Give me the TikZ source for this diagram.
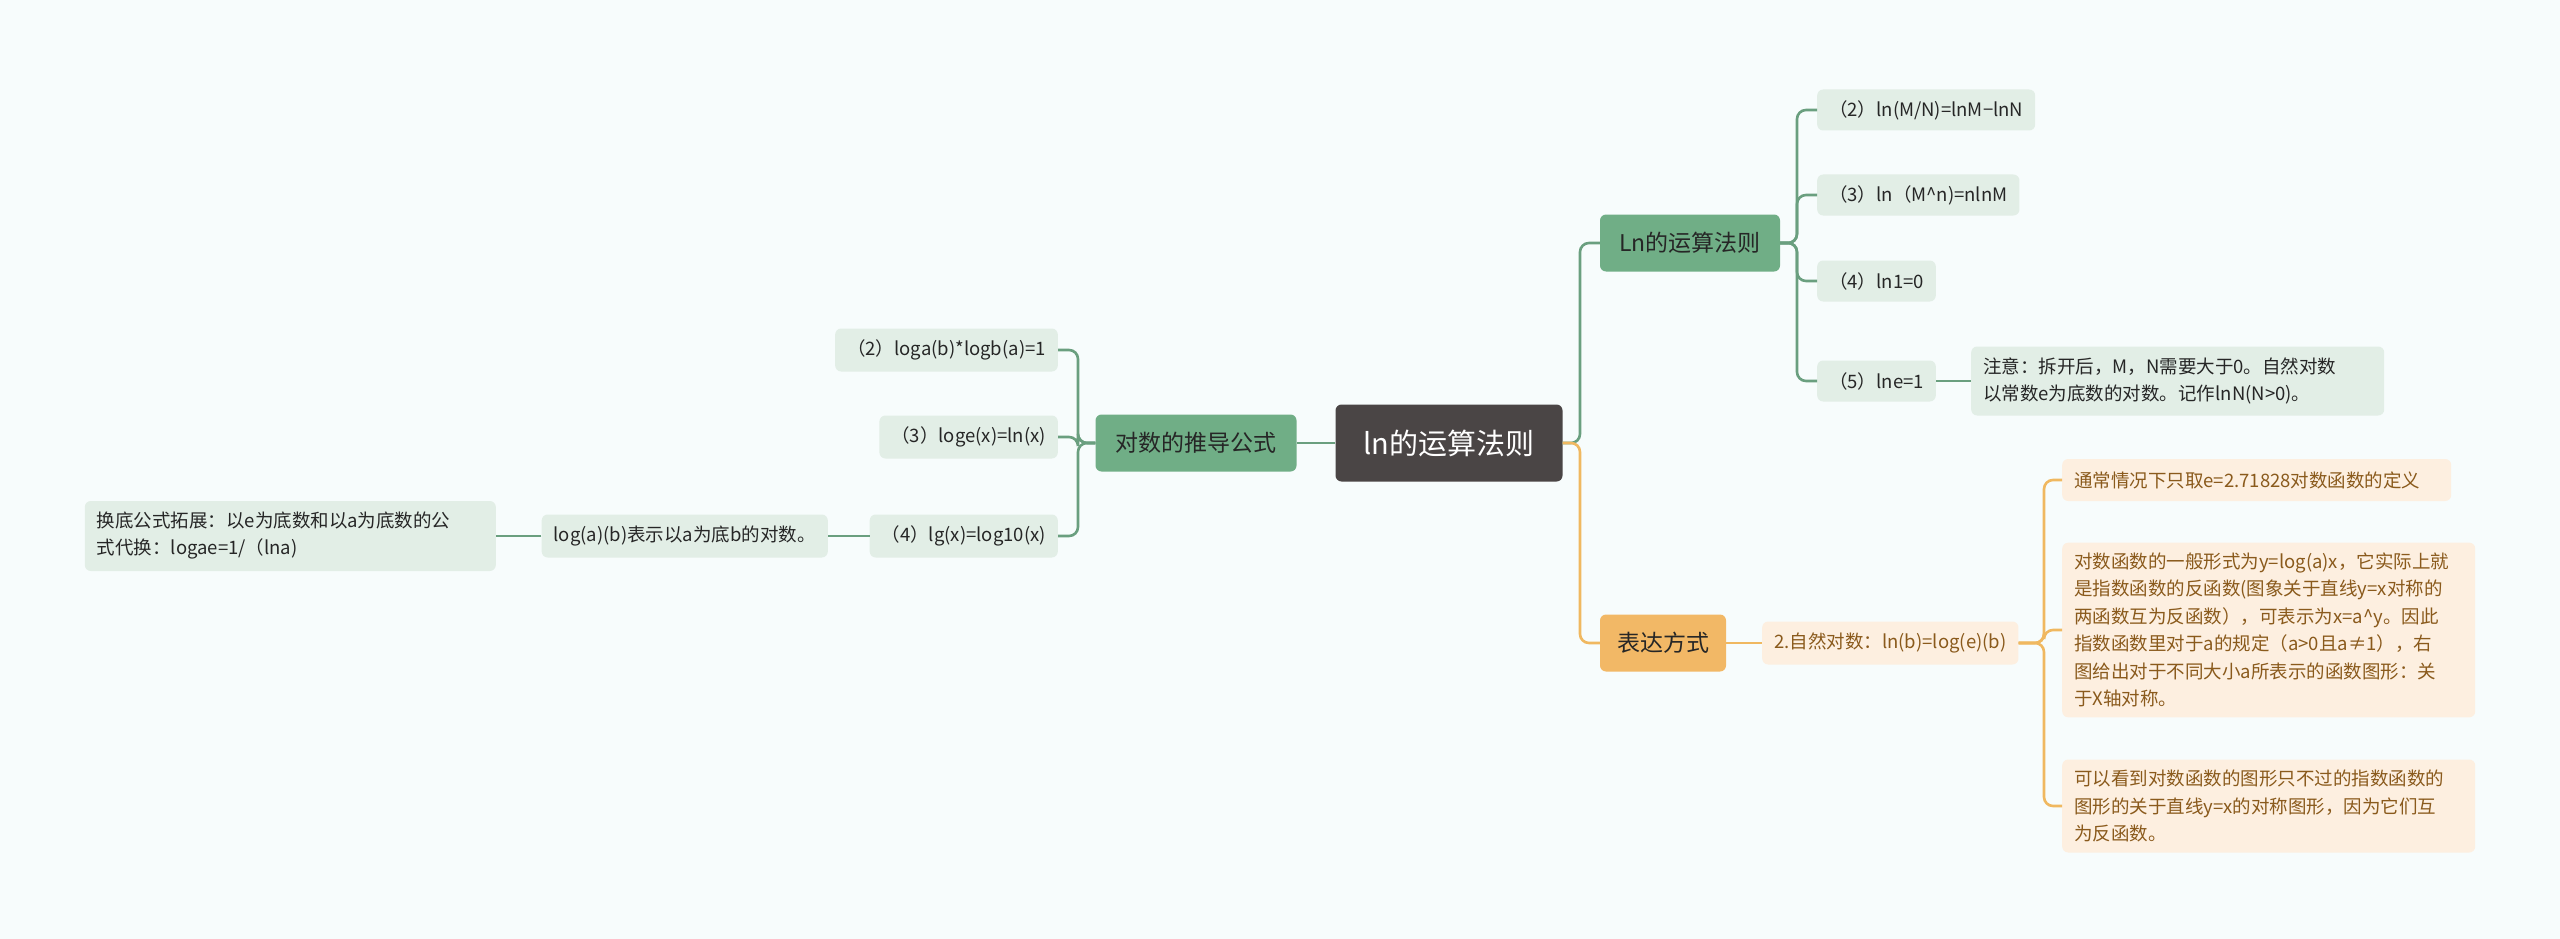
\documentclass[tikz,border=0pt]{standalone}
\usepackage{fontspec}
\setmainfont{Noto Sans CJK SC}
\definecolor{bg}{HTML}{F7FCFC}
\definecolor{gfill}{HTML}{E2EEE6}
\definecolor{ofill}{HTML}{FDEFE0}
\definecolor{otext}{HTML}{8A5A1C}
\definecolor{gl}{HTML}{6A9F7F}
\definecolor{ol}{HTML}{F0B860}
\definecolor{rootc}{HTML}{4A4545}
\definecolor{gbranch}{HTML}{70AE86}
\definecolor{obranch}{HTML}{F2B866}
\begin{document}
\begin{tikzpicture}[x=1pt,y=-1pt,
  leafg/.style={fill=gfill,rounded corners=6pt,text=black!85,font=\fontsize{18.5}{27}\selectfont,inner xsep=12pt,inner ysep=10pt,align=left},
  leafo/.style={fill=ofill,rounded corners=6pt,text=otext,font=\fontsize{18.5}{27.5}\selectfont,inner xsep=12pt,inner ysep=10pt,align=left},
  branchg/.style={fill=gbranch,rounded corners=6pt,text=black!85,font=\fontsize{23}{28}\selectfont,inner xsep=14pt,inner ysep=12pt},
  brancho/.style={fill=obranch,rounded corners=6pt,text=black!85,font=\fontsize{23}{28}\selectfont,inner xsep=14pt,inner ysep=12pt},
  gline/.style={draw=gl,line width=2.6pt,rounded corners=9pt},
  oline/.style={draw=ol,line width=2.6pt,rounded corners=9pt}]
\fill[bg] (0,0) rectangle (2560,939);
\useasboundingbox (0,0) rectangle (2560,939);
% root & branches
\node[fill=rootc,rounded corners=6pt,text=white,font=\fontsize{29}{34}\selectfont,minimum width=227pt,minimum height=77pt] (root) at (1449,443) {ln的运算法则};
\node[branchg,minimum width=180pt,minimum height=57pt] (ln) at (1690,243) {Ln的运算法则};
\node[brancho,minimum width=126pt,minimum height=57pt] (bd) at (1663,643) {表达方式};
\node[branchg,minimum width=201pt,minimum height=57pt] (tl) at (1196,443) {对数的推导公式};
% Ln children
\node[leafg,anchor=west,minimum height=41pt] (c2) at (1817,110) {（2）ln(M/N)=lnM−lnN};
\node[leafg,anchor=west,minimum height=41pt] (c3) at (1817,195) {（3）ln（M\^{}n)=nlnM};
\node[leafg,anchor=west,minimum height=41pt] (c4) at (1817,281) {（4）ln1=0};
\node[leafg,anchor=west,minimum height=41pt] (c5) at (1817,381) {（5）lne=1};
\node[leafg,anchor=west,text width=389pt,minimum height=69pt] (note) at (1971,381) {注意：拆开后，M，N需要大于0。自然对数\\以常数e为底数的对数。记作lnN(N>0)。};
% 表达方式 children
\node[leafo,anchor=west,minimum height=43pt] (zr) at (1762,643) {2.自然对数：ln(b)=log(e)(b)};
\node[leafo,anchor=west,text width=365pt,minimum height=42pt] (o1) at (2062,480) {通常情况下只取e=2.71828对数函数的定义};
\node[leafo,anchor=west,text width=389pt,minimum height=170pt] (o2) at (2062,630) {对数函数的一般形式为y=log(a)x，它实际上就\\是指数函数的反函数(图象关于直线y=x对称的\\两函数互为反函数），可表示为x=a\^{}y。因此\\指数函数里对于a的规定（a>0且a≠1），右\\图给出对于不同大小a所表示的函数图形：关\\于X轴对称。};
\node[leafo,anchor=west,text width=389pt,minimum height=93pt] (o3) at (2062,806) {可以看到对数函数的图形只不过的指数函数的\\图形的关于直线y=x的对称图形，因为它们互\\为反函数。};
% left side
\node[leafg,anchor=east,minimum height=43pt] (l2) at (1058,350) {（2）loga(b)*logb(a)=1};
\node[leafg,anchor=east,minimum height=43pt] (l3) at (1058,437) {（3）loge(x)=ln(x)};
\node[leafg,anchor=east,minimum height=43pt] (l4) at (1058,536) {（4）lg(x)=log10(x)};
\node[leafg,anchor=east,minimum height=43pt] (lg) at (828,536) {log(a)(b)表示以a为底b的对数。};
\node[leafg,anchor=east,text width=387pt,minimum height=70pt] (hd) at (496,536) {换底公式拓展：以e为底数和以a为底数的公\\式代换：logae=1/（lna)};
% connectors
\draw[gline] (root.west) -- (tl.east);
\draw[gline] (root.east) -- (1580,443) |- (ln.west);
\draw[oline] (root.east) -- (1580,443) |- (bd.west);
\foreach \c in {c2,c3,c4,c5} \draw[gline] (ln.east) -- (1797,243) |- (\c.west);
\draw[gline] (c5.east) -- (note.west);
\draw[oline] (bd.east) -- (zr.west);
\foreach \c in {o1,o2,o3} \draw[oline] (zr.east) -- (2044,643) |- (\c.west);
\foreach \c in {l2,l3,l4} \draw[gline] (tl.west) -- (1078,443) |- (\c.east);
\draw[gline] (l4.west) -- (lg.east);
\draw[gline] (lg.west) -- (hd.east);
\end{tikzpicture}
\end{document}
